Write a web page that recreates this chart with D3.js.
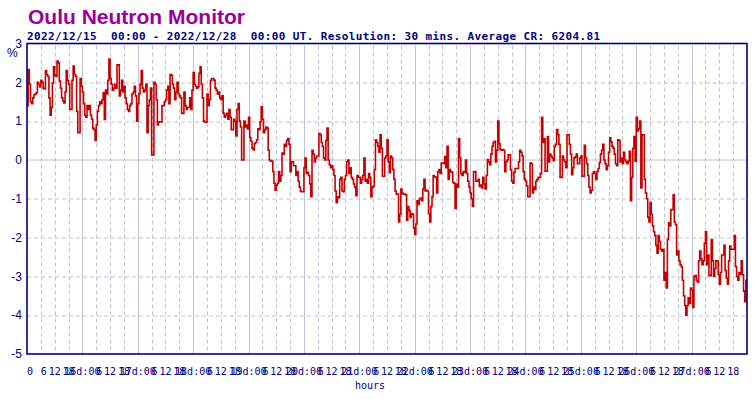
<!DOCTYPE html>
<html lang="en">
  <head>
    <meta charset="utf-8" />
    <title>Oulu Neutron Monitor</title>
    <script src="https://d3js.org/d3.v7.min.js"></script>
    <style type="text/css">
      body {
        margin: 0;
        background: #ffffff;
      }
      svg {
        display: block;
      }
    </style>
  </head>
  <body>
    <script type="text/javascript">
      //Relative count rate, % from average, 30 min steps, one array per UT day
      var d15 = [1.40,2.33,1.95,1.50,1.45,1.60,1.68,1.70,1.73,2.00,1.95,1.88,2.05,2.00,1.85,1.83,2.30,2.20,2.15,1.60,1.15,1.35,1.98,2.40,2.18,2.15,2.55,2.50,2.03,1.85,1.60,1.52,1.47,1.75,2.30,2.05,1.95,1.30,1.30,2.05,2.42,2.20,2.15,1.25,0.70,0.70,2.10,1.90];
      var d16 = [1.75,1.45,1.15,1.10,1.40,1.30,1.40,1.15,1.05,0.82,0.78,0.50,0.90,1.25,1.40,1.50,1.45,1.55,1.73,1.04,1.80,1.70,2.05,2.60,2.10,1.95,1.80,1.85,1.95,1.85,2.45,2.45,1.65,1.80,2.05,1.75,1.90,1.60,1.45,1.30,1.25,1.40,1.45,1.70,1.75,1.90,1.65,1.00];
      var d17 = [1.45,1.70,1.95,2.30,1.85,1.75,1.80,1.95,0.70,1.40,1.55,1.85,0.13,0.13,2.00,1.95,1.55,0.90,0.98,0.98,0.98,1.40,1.40,1.50,1.55,1.80,1.90,1.45,2.20,2.18,1.95,1.85,1.55,1.75,2.00,1.70,1.65,1.60,1.20,1.20,1.75,1.40,1.30,1.35,1.35,1.60,1.30,1.80];
      var d18 = [2.25,1.95,1.90,1.85,1.88,2.23,2.40,1.95,1.60,1.00,0.97,0.97,1.70,1.40,1.55,2.05,2.10,2.10,2.05,1.85,1.80,1.70,1.75,1.60,1.55,1.65,1.20,1.10,1.15,1.20,1.05,1.30,1.10,0.78,0.78,1.05,1.00,0.62,1.30,1.45,1.00,0.85,0.00,0.00,1.00,0.85,0.90,0.80];
      var d19 = [1.10,0.58,0.48,0.30,0.26,0.42,0.45,0.52,0.80,0.78,0.98,1.37,1.05,0.70,0.78,0.85,0.82,0.25,0.00,-0.03,-0.03,-0.30,-0.60,-0.78,-0.65,-0.60,-0.30,-0.55,-0.40,0.18,0.15,0.40,0.35,0.50,0.55,0.40,-0.30,-0.05,-0.05,-0.15,-0.15,-0.40,-0.30,-0.55,-0.70,-0.81,-0.82,-0.82];
      var d20 = [-0.20,0.05,-0.35,-0.32,-0.40,-0.62,-0.95,0.25,0.15,-0.05,0.05,0.10,0.10,0.68,0.65,0.45,0.35,0.05,0.00,0.50,0.82,0.00,-0.12,-0.20,-0.15,-0.25,-0.40,-0.80,-1.10,-0.95,-0.97,-0.50,-0.45,-0.80,-0.82,-0.50,-0.40,-0.05,0.00,-0.35,-0.20,-0.45,-0.50,-0.62,-0.70,-0.92,-0.40,-0.45];
      var d21 = [-0.45,-0.60,-0.50,-0.40,0.05,-0.55,-0.50,-0.60,-0.35,-0.45,-0.95,-0.70,-0.68,-0.25,0.52,0.45,0.35,0.20,0.65,0.30,-0.42,-0.42,0.05,0.10,0.52,-0.05,-0.33,0.10,0.05,-0.25,-0.50,-0.80,-0.88,-0.88,-1.60,-1.40,-0.75,-0.85,-0.88,-0.88,-0.90,-1.55,-1.20,-1.30,-1.48,-1.38,-1.40,-1.75];
      var d22 = [-1.92,-1.65,-1.05,-1.15,-1.00,-0.98,-1.05,-0.75,-0.50,-0.80,-0.78,-0.80,-1.38,-1.60,-1.20,-0.95,-0.40,-0.43,-0.45,-0.85,-0.30,-0.25,-0.35,-0.08,-0.08,-0.10,0.09,-0.20,0.35,-0.50,-0.25,-0.30,-0.32,-0.58,-0.60,-1.25,-0.62,-0.70,0.55,0.05,-0.35,-0.40,-0.30,-0.32,0.00,-0.35,-0.55,-0.70];
      var d23 = [-0.85,-1.00,-1.20,-0.30,-0.30,-0.55,-0.55,-0.50,-0.68,-0.65,-0.72,-0.45,-0.62,-0.75,-0.40,0.01,-0.05,-0.12,0.15,0.35,0.45,0.48,-0.05,0.25,1.00,0.42,0.27,0.25,0.27,0.25,-0.30,-0.05,0.00,0.13,0.13,-0.25,-0.55,-0.60,-0.32,-0.22,-0.22,-0.22,-0.05,0.25,0.20,0.10,-0.30,-0.50];
      var d24 = [-0.55,-0.67,-0.95,-0.95,-0.08,-0.10,-0.85,-0.70,-0.76,-0.55,-0.50,-0.45,-0.45,-0.35,1.10,0.45,0.55,-0.29,-0.29,0.60,-0.05,0.15,0.10,0.05,-0.02,0.35,0.40,0.78,0.65,0.40,-0.45,-0.45,0.10,0.00,-0.05,-0.20,0.65,0.65,0.40,0.15,-0.38,-0.20,0.05,0.08,0.15,-0.10,-0.10,0.05];
      var d25 = [0.10,-0.42,-0.42,0.38,0.05,-0.10,-0.40,-0.70,-0.85,-0.78,-0.35,-0.30,-0.35,-0.50,-0.30,-0.22,-0.07,0.15,0.25,0.40,0.00,-0.10,-0.25,-0.15,0.20,0.57,0.47,0.35,0.30,0.15,-0.10,-0.15,0.52,0.50,-0.05,0.05,-0.10,0.20,0.00,-0.05,-0.10,-0.03,0.22,-1.05,-0.45,0.30,0.60,-0.03];
      var d26 = [1.10,0.75,0.80,1.00,-0.72,0.65,0.65,-0.50,-0.85,-1.00,-1.48,-1.60,-1.10,-1.40,-1.70,-1.85,-1.95,-2.20,-2.40,-1.95,-2.10,-2.30,-2.35,-2.30,-3.10,-2.90,-3.30,-2.05,-1.62,-1.70,-1.28,-1.28,-0.90,-1.60,-1.67,-2.45,-2.35,-2.60,-2.70,-2.75,-3.10,-3.50,-3.75,-4.00,-3.75,-3.55,-3.70,-3.30];
      var d27 = [-3.35,-3.80,-3.00,-2.98,-3.10,-3.15,-2.60,-2.35,-2.55,-2.70,-2.60,-2.15,-1.85,-2.70,-2.45,-2.98,-2.98,-2.05,-2.60,-3.00,-2.80,-2.60,-2.60,-2.95,-3.20,-2.90,-2.45,-2.45,-2.20,-2.85,-3.05,-3.20,-2.60,-2.22,-2.30,-2.30,-2.30,-1.95,-2.75,-3.00,-3.10,-2.90,-2.95,-2.60,-2.95,-3.38,-3.65,-3.10];

      //Categories and tick labels
      var days = ["15", "16", "17", "18", "19", "20", "21", "22", "23", "24", "25", "26", "27"];
      var hourLabels = ["0", "6", "12", "18"];
      var yTicks = [3, 2, 1, 0, -1, -2, -3, -4, -5];

      var titleText = "Oulu Neutron Monitor";
      var subText =
        "2022/12/15  00:00 - 2022/12/28  00:00 UT. Resolution: 30 mins. Average CR: 6204.81";

      var dataset = [].concat(d15, d16, d17, d18, d19, d20, d21, d22, d23, d24, d25, d26, d27);
      var stepsPerDay = 48;
      var nSteps = dataset.length;

      //Width and height
      var w = 756;
      var h = 399;
      var margin = { top: 43.5, right: 9, bottom: 45, left: 27 };
      var pw = w - margin.left - margin.right;
      var ph = h - margin.top - margin.bottom;

      var navy = "#000080";
      var gridColor = "#c0c0d8";

      var xScale = d3.scaleLinear().domain([0, nSteps]).range([0, pw]);
      var yScale = d3.scaleLinear().domain([-5, 3]).range([ph, 0]);

      var svg = d3
        .select("body")
        .append("svg")
        .attr("width", w)
        .attr("height", h);

      //Title lines
      svg
        .append("text")
        .attr("x", 28)
        .attr("y", 24)
        .attr("font-family", "'Liberation Sans', Arial, sans-serif")
        .attr("font-weight", "bold")
        .attr("font-size", "21px")
        .attr("fill", "#9c009c")
        .text(titleText);

      svg
        .append("text")
        .attr("x", 27)
        .attr("y", 39.5)
        .attr("font-family", "'DejaVu Sans Mono', monospace")
        .attr("font-weight", "bold")
        .attr("font-size", "11px")
        .attr("textLength", 573)
        .attr("lengthAdjust", "spacing")
        .attr("xml:space", "preserve")
        .attr("fill", navy)
        .text(subText);

      var g = svg
        .append("g")
        .attr("transform", "translate(" + margin.left + "," + margin.top + ")");

      //Horizontal grid, solid at zero
      g.selectAll(".hgrid")
        .data(yTicks.filter(function (d) {
          return d > -5 && d < 3;
        }))
        .enter()
        .append("line")
        .attr("class", "hgrid")
        .attr("x1", 0)
        .attr("x2", pw)
        .attr("y1", function (d) {
          return Math.round(yScale(d)) + 0.5;
        })
        .attr("y2", function (d) {
          return Math.round(yScale(d)) + 0.5;
        })
        .attr("stroke", gridColor)
        .attr("stroke-width", 1)
        .attr("stroke-dasharray", function (d) {
          return d === 0 ? null : "4,3";
        });

      //Vertical grid every 6 hours, solid at 00 UT
      var sixHours = d3.range(1, days.length * 4);
      g.selectAll(".vgrid")
        .data(sixHours)
        .enter()
        .append("line")
        .attr("class", "vgrid")
        .attr("x1", function (d) {
          return Math.round(xScale(d * 12)) + 0.5;
        })
        .attr("x2", function (d) {
          return Math.round(xScale(d * 12)) + 0.5;
        })
        .attr("y1", 2)
        .attr("y2", ph)
        .attr("stroke", gridColor)
        .attr("stroke-width", 1)
        .attr("stroke-dasharray", function (d) {
          return d % 4 === 0 ? null : "4,3";
        });

      //Data line, 30 min steps
      var stepData = dataset.map(function (v, i) {
        return [i, v];
      });
      stepData.push([nSteps, dataset[nSteps - 1]]);

      var line = d3
        .line()
        .x(function (d) {
          return xScale(d[0]);
        })
        .y(function (d) {
          return yScale(d[1]);
        })
        .curve(d3.curveStepAfter);

      g.append("path")
        .datum(stepData)
        .attr("d", line)
        .attr("fill", "none")
        .attr("stroke", "#c40000")
        .attr("stroke-width", 1.6);

      //Frame
      g.append("rect")
        .attr("x", 0)
        .attr("y", 0)
        .attr("width", pw)
        .attr("height", ph)
        .attr("fill", "none")
        .attr("stroke", navy)
        .attr("stroke-width", 1.6);

      //Y axis labels
      g.selectAll(".ylab")
        .data(yTicks)
        .enter()
        .append("text")
        .attr("class", "ylab")
        .attr("x", -5)
        .attr("y", function (d) {
          return yScale(d);
        })
        .attr("dy", "0.35em")
        .attr("text-anchor", "end")
        .attr("font-family", "'Liberation Sans', Arial, sans-serif")
        .attr("font-size", "12px")
        .attr("fill", navy)
        .text(function (d) {
          return d;
        });

      svg
        .append("text")
        .attr("x", 7)
        .attr("y", 57)
        .attr("font-family", "'Liberation Sans', Arial, sans-serif")
        .attr("font-size", "12px")
        .attr("fill", navy)
        .text("%");

      //X axis labels, one every 6 hours
      var xLabels = [];
      days.forEach(function (day, di) {
        hourLabels.forEach(function (hr, hi) {
          var txt = hi === 0 && di > 0 ? day + "d:00" : (hr.length < 2 ? " " + hr : hr);
          xLabels.push({ pos: di * stepsPerDay + hi * 12, text: txt });
        });
      });

      g.selectAll(".xlab")
        .data(xLabels)
        .enter()
        .append("text")
        .attr("class", "xlab")
        .attr("x", function (d) {
          return xScale(d.pos);
        })
        .attr("y", ph + 21)
        .attr("text-anchor", "middle")
        .attr("xml:space", "preserve")
        .style("white-space", "pre")
        .attr("font-family", "'DejaVu Sans Mono', monospace")
        .attr("font-size", "10px")
        .attr("fill", navy)
        .text(function (d) {
          return d.text;
        });

      svg
        .append("text")
        .attr("x", 355)
        .attr("y", 389)
        .attr("font-family", "'DejaVu Sans Mono', monospace")
        .attr("font-size", "10px")
        .attr("fill", navy)
        .text("hours");
    </script>
  </body>
</html>
